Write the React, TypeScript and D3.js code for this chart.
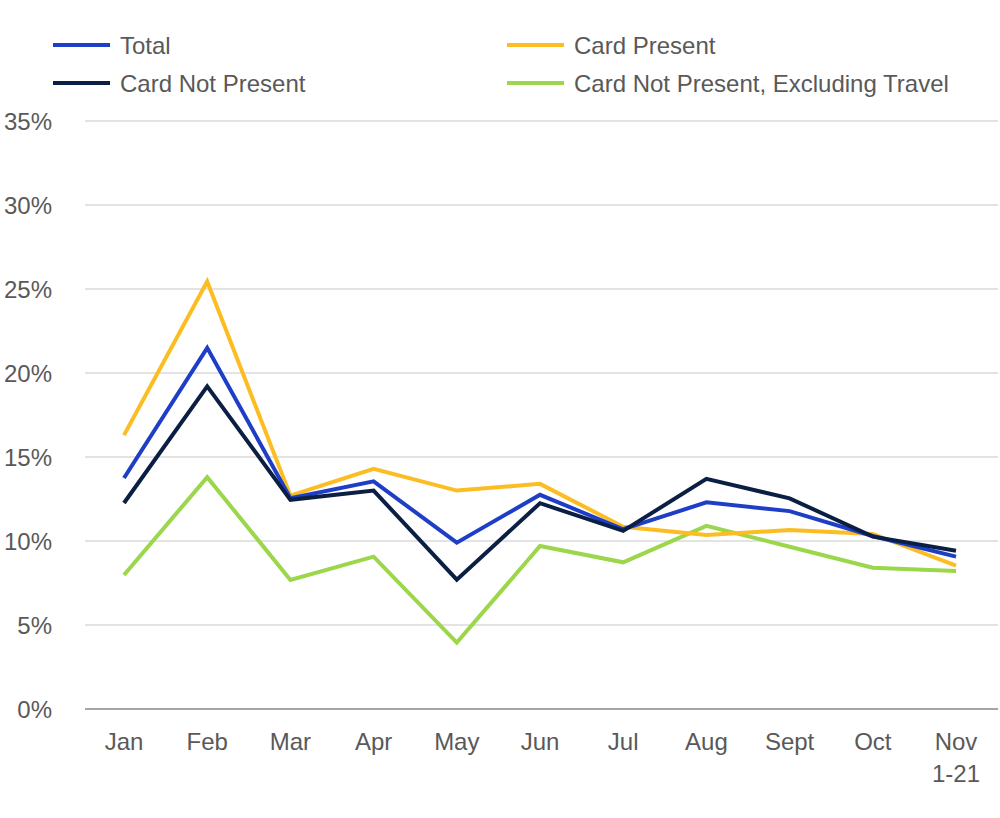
import React from "react";
import * as d3 from "d3";

const months = ["Jan", "Feb", "Mar", "Apr", "May", "Jun", "Jul", "Aug", "Sept", "Oct", "Nov\n1-21"];
const total = [13.75, 21.5, 12.55, 13.55, 9.9, 12.75, 10.7, 12.3, 11.78, 10.3, 9.07];
const cardPresent = [16.3, 25.44, 12.7, 14.3, 13.0, 13.4, 10.85, 10.36, 10.65, 10.42, 8.53];
const cardNotPresent = [12.26, 19.2, 12.45, 13.0, 7.7, 12.25, 10.6, 13.7, 12.54, 10.26, 9.42];
const cnpExTravel = [7.98, 13.8, 7.68, 9.07, 3.95, 9.7, 8.73, 10.9, 9.66, 8.41, 8.21];
const yTicks = [0, 5, 10, 15, 20, 25, 30, 35];

const series = [
  { name: "Total", values: total, color: "#1f3ec8" },
  { name: "Card Present", values: cardPresent, color: "#fbbd22" },
  { name: "Card Not Present", values: cardNotPresent, color: "#0b1f45" },
  { name: "Card Not Present, Excluding Travel", values: cnpExTravel, color: "#9bd64b" },
];
const drawOrder = [3, 1, 0, 2];

const W = 1000, H = 818;
const FONT = "'Liberation Sans', Arial, sans-serif";
const FS = 24;

export default function App() {
  const x = d3.scalePoint<string>().domain(months).range([124, 956]);
  const y = d3.scaleLinear().domain([0, 35]).range([709, 121]);
  const line = d3.line<number>().x((_, i) => x(months[i]) as number).y((d) => y(d));
  const legendPos = [
    { lx: 53, ly: 45 },
    { lx: 507, ly: 45 },
    { lx: 53, ly: 83 },
    { lx: 507, ly: 83 },
  ];
  return (
    <svg width={W} height={H} style={{ position: "absolute", left: 0, top: 0, background: "#fff" }} fontFamily={FONT}>
      {yTicks.slice(1).map((t) => (
        <line key={t} x1={85} x2={998} y1={y(t)} y2={y(t)} stroke="#e3e3e3" strokeWidth={2} />
      ))}
      <line x1={85} x2={998} y1={y(0)} y2={y(0)} stroke="#a6a6a6" strokeWidth={2} />
      {yTicks.map((t) => (
        <text key={t} x={52} y={y(t)} dy="0.36em" textAnchor="end" fontSize={FS} fill="#595959">
          {t}%
        </text>
      ))}
      {months.map((m) => {
        const parts = m.split("\n");
        return (
          <text key={m} x={x(m)} y={750} textAnchor="middle" fontSize={FS} fill="#595959">
            {parts.map((p, i) => (
              <tspan key={i} x={x(m)} dy={i === 0 ? 0 : 32}>{p}</tspan>
            ))}
          </text>
        );
      })}
      {drawOrder.map((i) => (
        <path key={i} d={line(series[i].values) || ""} fill="none" stroke={series[i].color} strokeWidth={4} strokeLinejoin="miter" />
      ))}
      {series.map((s, i) => (
        <g key={s.name}>
          <line x1={legendPos[i].lx} x2={legendPos[i].lx + 57} y1={legendPos[i].ly} y2={legendPos[i].ly} stroke={s.color} strokeWidth={4} />
          <text x={legendPos[i].lx + 67} y={legendPos[i].ly} dy="0.36em" fontSize={FS} fill="#595959">
            {s.name}
          </text>
        </g>
      ))}
    </svg>
  );
}
